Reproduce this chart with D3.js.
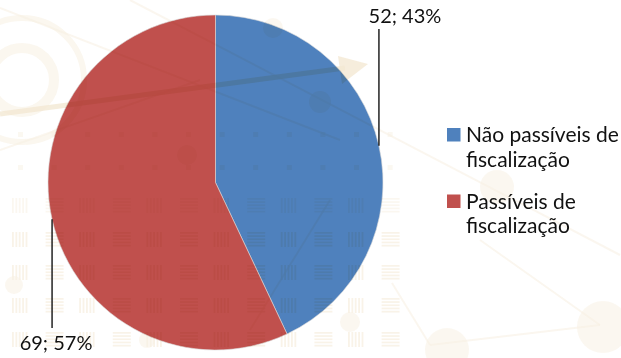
<!DOCTYPE html>
<html>
<head>
<meta charset="utf-8">
<script src="https://cdn.jsdelivr.net/npm/d3@7"></script>
<style>
  html, body { margin: 0; padding: 0; background: #ffffff; }
  svg { display: block; }
  text { font-family: Lato, "Open Sans", sans-serif; fill: #111; }
</style>
</head>
<body>
<svg id="chart" width="621" height="358"></svg>
<script>
// Chart data
const categories = ["Não passíveis de fiscalização", "Passíveis de fiscalização"];
const legendLines = [["Não passíveis de", "fiscalização"], ["Passíveis de", "fiscalização"]];
const values = [52, 69];
const colors = ["#4f81bd", "#c0504d"];

const W = 621, H = 358;
const cx = 215.5, cy = 182.5, R = 167.5;
const svg = d3.select("#chart");

// Pie slices
const total = d3.sum(values);
const pie = d3.pie().sort(null).value(d => d)(values);
const arc = d3.arc().innerRadius(0).outerRadius(R);
const g = svg.append("g").attr("transform", `translate(${cx},${cy})`);
g.selectAll("path.slice")
  .data(pie)
  .join("path")
  .attr("class", "slice")
  .attr("d", arc)
  .attr("fill", (d, i) => colors[i])
  .attr("stroke", "#d8d8d8")
  .attr("stroke-width", 0.6);

// Faint watermark decoration, multiplied over the page
const deco = svg.append("g").style("mix-blend-mode", "multiply").attr("opacity", 0.5);
const beige = "#f0e2c8";
// concentric rings top-left
[[22, 80, 32, 10], [22, 80, 62, 6]].forEach(([x, y, r, w]) => {
  deco.append("circle").attr("cx", x).attr("cy", y).attr("r", r)
    .attr("fill", "none").attr("stroke", beige).attr("stroke-width", w).attr("opacity", 0.6);
});
// thin network lines
[[0, 8, 340, 140], [130, 0, 620, 255], [0, 150, 200, 80],
 [392, 283, 430, 345], [480, 240, 600, 325], [430, 345, 600, 325],
 [250, 330, 330, 200]].forEach(([x1, y1, x2, y2]) => {
  deco.append("line").attr("x1", x1).attr("y1", y1).attr("x2", x2).attr("y2", y2)
    .attr("stroke", beige).attr("stroke-width", 2).attr("opacity", 0.6);
});
// arrow sweeping up to the right
deco.append("line").attr("x1", 0).attr("y1", 114).attr("x2", 345).attr("y2", 68)
  .attr("stroke", "#e8d2a8").attr("stroke-width", 5).attr("opacity", 0.8);
deco.append("path").attr("d", "M338,56 L368,64 L342,84 Z").attr("fill", "#e8d2a8").attr("opacity", 0.8);
// dots
[[447, 350, 22], [603, 327, 26], [497, 187, 17], [273, 28, 10], [320, 102, 11], [187, 155, 10],
 [14, 285, 9], [147, 340, 8], [350, 322, 10]].forEach(([x, y, r]) => {
  deco.append("circle").attr("cx", x).attr("cy", y).attr("r", r).attr("fill", beige).attr("opacity", 0.55);
});
// barcode grid
const cols = d3.range(12).map(i => 12 + i * 33.6);
const rows = [198, 232, 265, 298, 332];
rows.forEach((y, ri) => {
  cols.forEach((x, ci) => {
    const vertical = ci % 2 === 0;
    const blk = deco.append("g").attr("opacity", ri === 0 ? 0.55 : 0.85);
    if (vertical) {
      d3.range(5).forEach(k => blk.append("rect").attr("x", x + k * 3.4).attr("y", y)
        .attr("width", 1.8).attr("height", 15).attr("fill", beige));
    } else {
      d3.range(5).forEach(k => blk.append("rect").attr("x", x).attr("y", y + k * 3.2)
        .attr("width", 18).attr("height", 1.7).attr("fill", beige));
    }
  });
});
// small dots in upper rows
[135, 168].forEach(y => cols.forEach(x => {
  deco.append("rect").attr("x", x + 6).attr("y", y - 3).attr("width", 5).attr("height", 5)
    .attr("fill", beige).attr("opacity", 0.5);
}));

// Data labels with vertical leader lines from each arc midpoint
const labelCfg = [
  { lineTo: 29, textY: 23, dx: 26 },
  { lineTo: 328, textY: 350, dx: 4 }
];
pie.forEach((d, i) => {
  const a = (d.startAngle + d.endAngle) / 2;
  const px = cx + R * Math.sin(a), py = cy - R * Math.cos(a);
  const c = labelCfg[i];
  svg.append("line").attr("x1", px).attr("y1", py).attr("x2", px).attr("y2", c.lineTo)
    .attr("stroke", "#000").attr("stroke-width", 1.3);
  svg.append("text").attr("x", px + c.dx).attr("y", c.textY)
    .attr("text-anchor", "middle").style("font-size", "20px")
    .text(`${values[i]}; ${Math.round(values[i] / total * 100)}%`);
});

// Legend
const legend = svg.append("g").attr("transform", "translate(447,0)");
const legendY = [142, 208.5];
categories.forEach((c, i) => {
  const item = legend.append("g").attr("transform", `translate(0,${legendY[i]})`);
  item.append("rect").attr("x", 0).attr("y", -14).attr("width", 13.5).attr("height", 13.5)
    .attr("fill", colors[i]);
  const t = item.append("text").attr("x", 19).attr("y", 0).style("font-size", "21px");
  legendLines[i].forEach((ln, k) => {
    t.append("tspan").attr("x", 19).attr("dy", k === 0 ? 0 : 24.5).text(ln);
  });
});
</script>
</body>
</html>
